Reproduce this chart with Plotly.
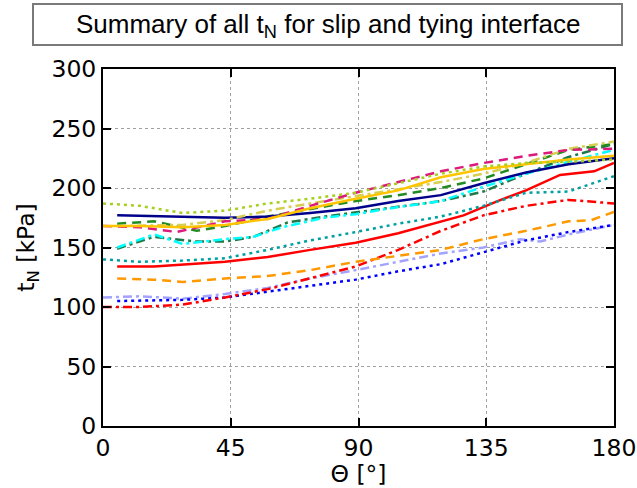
import plotly.graph_objects as go

# ---- data (theta in degrees, t_N in kPa) ----
navy_x = [5, 28, 43, 58, 73, 89, 104, 119, 134, 149, 164, 180]
navy_y = [177, 176, 175, 176, 179, 183, 189, 194, 204, 213, 220, 225]

gold_x = [0, 13, 28, 43, 58, 73, 89, 104, 119, 134, 149, 164, 180]
gold_y = [168, 168, 167, 169, 174, 183, 191, 198, 209, 216, 220, 224, 227]

ygdot_x = [0, 13, 28, 43, 58, 73, 89, 104, 119, 134, 149, 164, 180]
ygdot_y = [187, 185, 179, 181, 187, 191, 196, 204, 212, 218, 221, 222, 224]

khaki_x = [5, 28, 43, 58, 73, 89, 104, 119, 134, 149, 164, 180]
khaki_y = [168, 169, 173, 181, 187, 193, 199, 205, 212, 221, 233, 239]

magenta_x = [0, 13, 26, 43, 58, 73, 89, 104, 119, 134, 149, 164, 180]
magenta_y = [168, 167, 163, 172, 174, 185, 196, 205, 214, 221, 227, 232, 233]

green_x = [5, 18, 33, 43, 58, 73, 89, 104, 119, 134, 149, 164, 180]
green_y = [170, 172, 164, 168, 176, 182, 189, 194, 200, 208, 220, 232, 237]

cyan_x = [5, 18, 28, 43, 53, 63, 78, 89, 104, 119, 134, 149, 164, 180]
cyan_y = [150, 161, 153, 157, 159, 167, 175, 178, 184, 189, 201, 212, 222, 232]

dgreen_x = [5, 18, 33, 43, 53, 65, 78, 91, 104, 119, 134, 149, 164, 180]
dgreen_y = [149, 159, 155, 155, 159, 171, 176, 180, 184, 189, 197, 212, 226, 237]

teal_x = [0, 13, 28, 43, 58, 73, 89, 104, 119, 134, 149, 164, 180]
teal_y = [140, 138, 139, 141, 148, 156, 163, 170, 176, 185, 196, 197, 210]

red_x = [5, 18, 43, 58, 73, 89, 104, 119, 127, 139, 149, 161, 173, 180]
red_y = [134, 134, 138, 142, 148, 154, 162, 172, 177, 189, 198, 211, 214, 221]

reddd_x = [0, 13, 28, 43, 58, 73, 89, 104, 119, 134, 149, 164, 180]
reddd_y = [100, 100, 102, 108, 115, 124, 134, 148, 164, 177, 185, 190, 187]

orange_x = [5, 18, 28, 43, 58, 73, 89, 104, 119, 134, 149, 164, 172, 180]
orange_y = [124, 123, 121, 124, 126, 131, 138, 143, 148, 157, 164, 172, 173, 180]

lav_x = [0, 13, 28, 43, 58, 73, 89, 104, 119, 134, 147, 154, 164, 180]
lav_y = [108, 109, 107, 111, 116, 124, 131, 138, 145, 150, 157, 155, 161, 169]

blue_x = [5, 28, 43, 58, 73, 89, 104, 119, 134, 149, 164, 180]
blue_y = [105, 106, 108, 113, 118, 123, 130, 136, 146, 156, 163, 169]

x_ticks = [0, 45, 90, 135, 180]
y_ticks = [0, 50, 100, 150, 200, 250, 300]

DOT = "3px,4px"
DASH = "9px,6px"
DASHDOT = "9px,4px,3px,4px"

series = [
    (lav_x, lav_y, "#A3A3FF", DASHDOT),
    (blue_x, blue_y, "#0000FF", DOT),
    (reddd_x, reddd_y, "#FF0000", DASHDOT),
    (orange_x, orange_y, "#FF9900", DASH),
    (red_x, red_y, "#FF0000", "solid"),
    (teal_x, teal_y, "#00A0A0", DOT),
    (dgreen_x, dgreen_y, "#1E7A4A", DASHDOT),
    (cyan_x, cyan_y, "#00FFFF", DASHDOT),
    (green_x, green_y, "#228B22", DASH),
    (navy_x, navy_y, "#00008B", "solid"),
    (khaki_x, khaki_y, "#D6CE52", DASHDOT),
    (magenta_x, magenta_y, "#DB1A7C", DASH),
    (gold_x, gold_y, "#FFC400", "solid"),
    (ygdot_x, ygdot_y, "#A6D01E", DOT),
]

fig = go.Figure()
for xs, ys, col, dash in series:
    fig.add_trace(go.Scatter(x=xs, y=ys, mode="lines",
                             line=dict(color=col, width=2.5, dash=dash),
                             showlegend=False))

FONT = "DejaVu Sans"
axis_common = dict(
    showline=True, linecolor="black", linewidth=2, mirror="ticks",
    ticks="inside", ticklen=8, tickwidth=2, tickcolor="black",
    showgrid=True, gridcolor="#A0A0A0", gridwidth=1, griddash="dot",
    zeroline=False,
    tickfont=dict(family=FONT, size=23.5, color="black"),
)

fig.update_xaxes(range=[0, 180], tickvals=x_ticks, ticktext=[str(v) for v in x_ticks],
                 title=dict(text="Θ [°]", font=dict(family=FONT, size=23.5, color="black"),
                            standoff=0),
                 **axis_common)
fig.update_yaxes(range=[0, 300], tickvals=y_ticks, ticktext=[str(v) for v in y_ticks],
                 title=dict(text="t<sub>N</sub> [kPa]", font=dict(family=FONT, size=23.5, color="black"),
                            standoff=10),
                 **axis_common)

# title box
L, R, T, B = 103, 23, 69, 62
W, H = 637, 488
pw, ph = W - L - R, H - T - B
def px2x(px):
    return (px - L) / pw
def py2y(py):
    return (H - B - py) / ph

fig.add_shape(type="rect", xref="paper", yref="paper",
              x0=px2x(33), x1=px2x(622), y0=py2y(45), y1=py2y(4),
              line=dict(color="#7A7A7A", width=2), fillcolor="white", layer="above")
fig.add_annotation(xref="paper", yref="paper", x=px2x(328), y=py2y(25),
                   text="Summary of all t<sub>N</sub> for slip and tying interface",
                   showarrow=False, xanchor="center", yanchor="middle",
                   font=dict(family="Liberation Sans, Arial", size=26, color="black"))

fig.update_layout(
    width=W, height=H,
    margin=dict(l=L, r=R, t=T, b=B, autoexpand=False),
    paper_bgcolor="white", plot_bgcolor="white",
)

fig.write_html("out.html")
